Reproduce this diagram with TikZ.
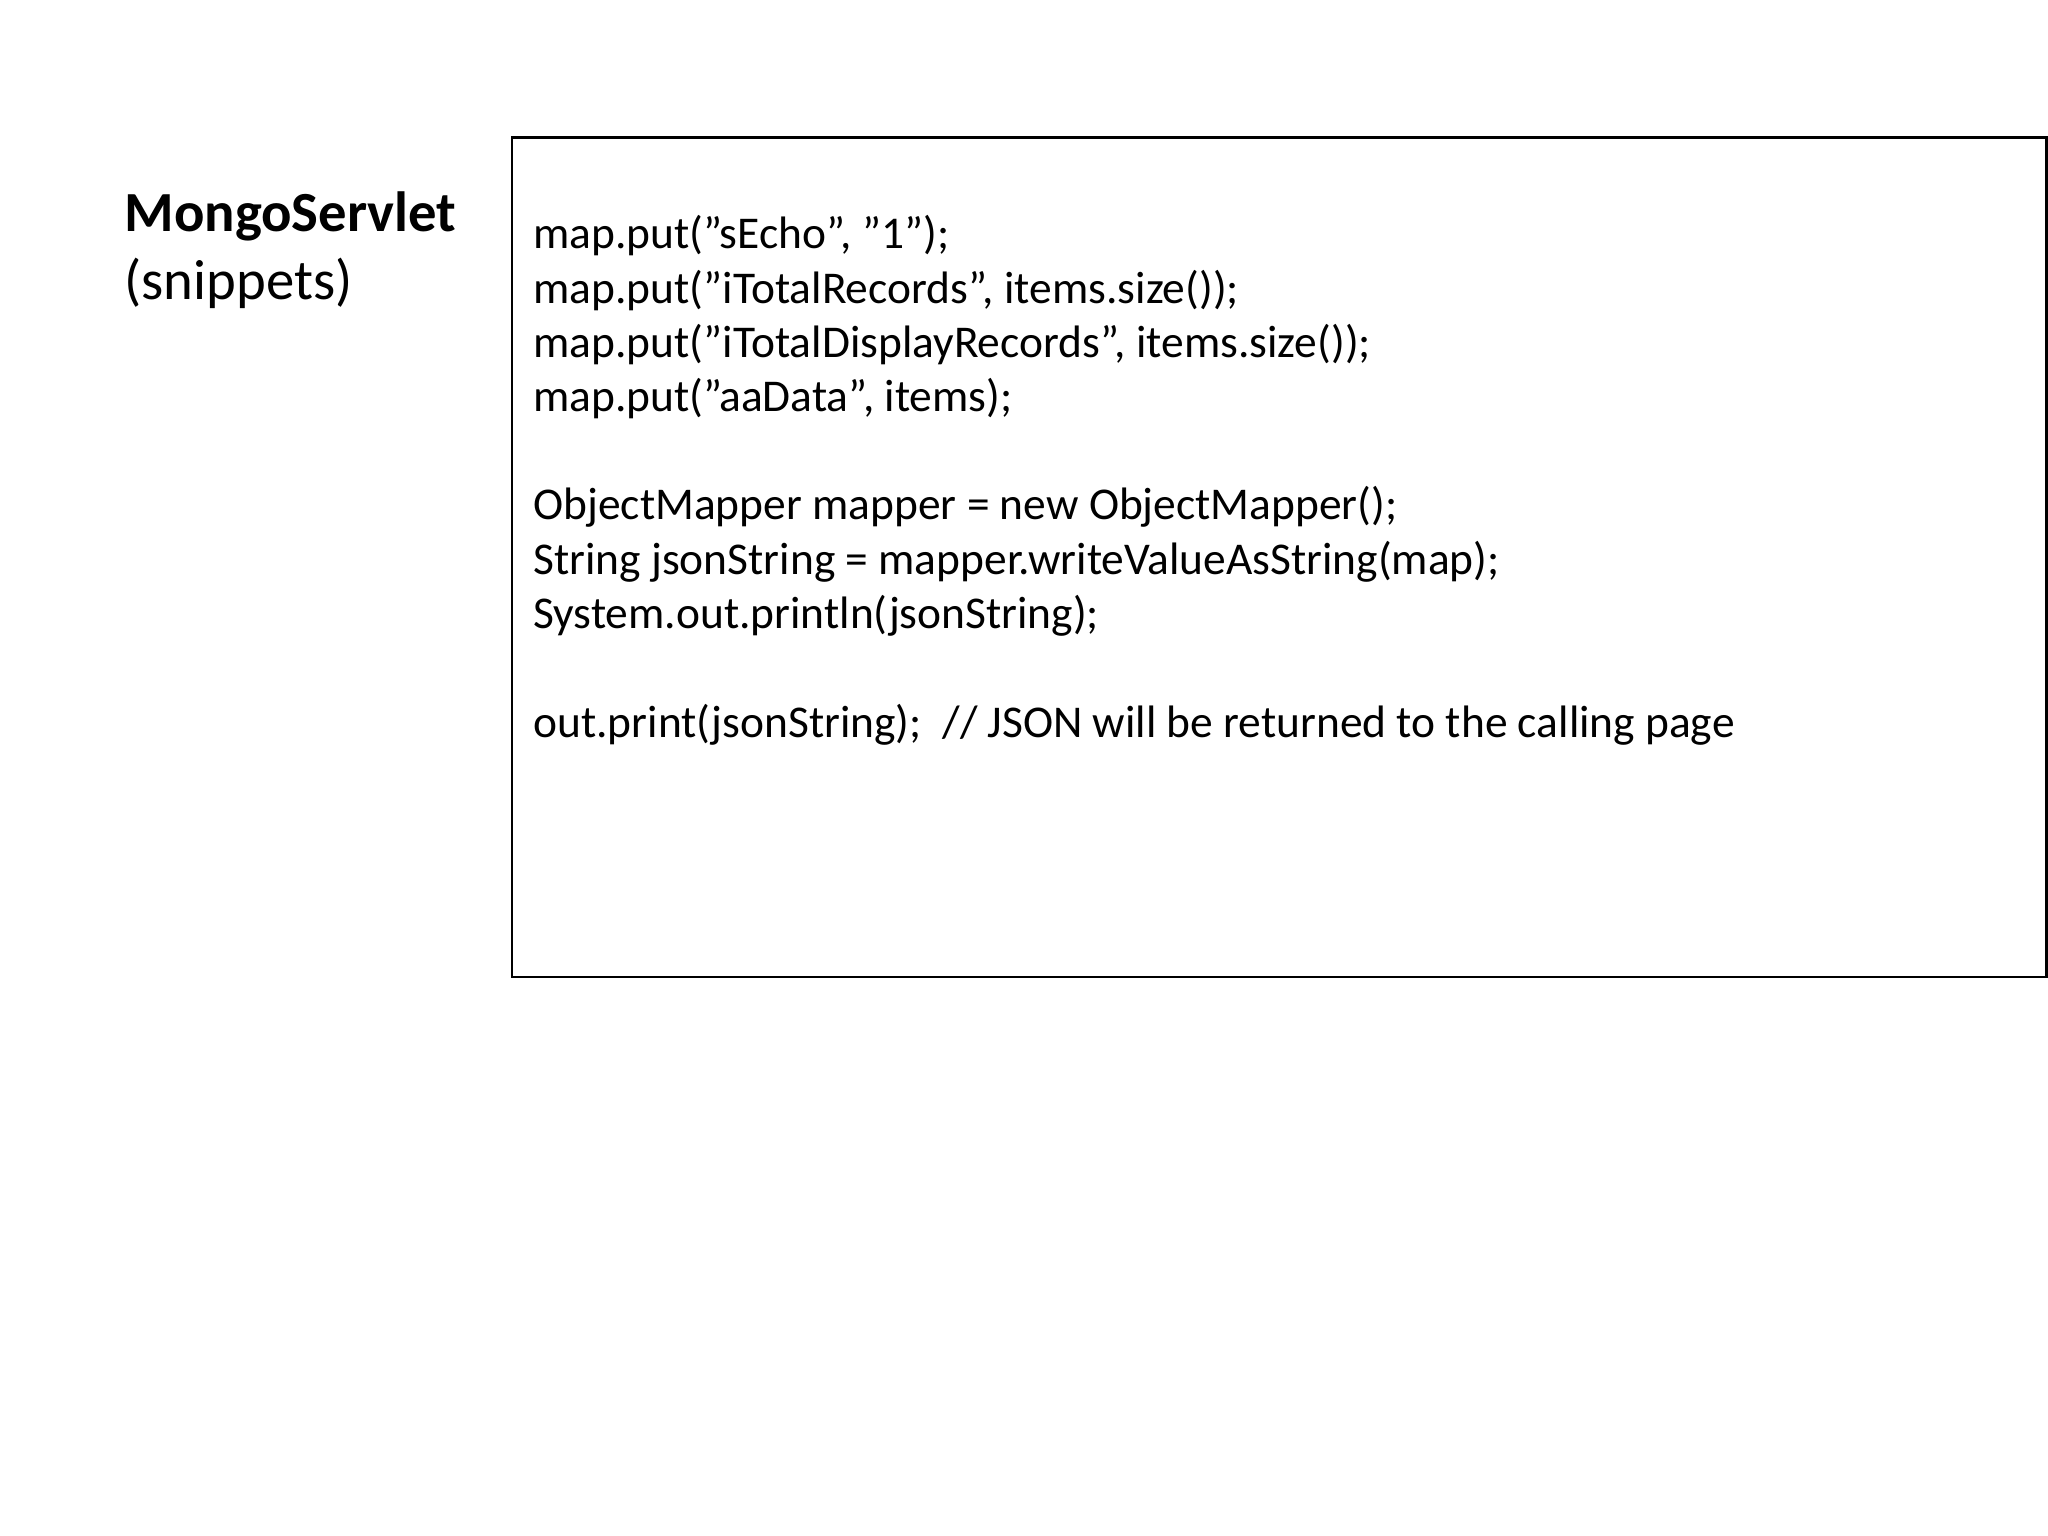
\documentclass[tikz,border=0pt]{standalone}
\usepackage{fontspec}
\setmainfont{Carlito}
\newcommand{\q}{\symbol{34}}
\begin{document}
\begin{tikzpicture}[x=0.5pt,y=-0.5pt,
  code/.style={anchor=base west,inner sep=0pt,font=\fontsize{17.4}{20}\selectfont},
  title/.style={anchor=base west,inner sep=0pt,font=\fontsize{21.7}{26}\selectfont}]
\useasboundingbox (0,0) rectangle (1568,1176);
\coordinate (bnw) at (392,105.5);
\coordinate (bse) at (1567,748);
\draw[line width=1pt] (bnw) rectangle (bse);
\node[title,font=\fontsize{21.7}{26}\selectfont\bfseries] (t1) at (95,177) {MongoServlet};
\node[title] (t2) at (95,229) {(snippets)};
\node[code] (l1) at (408,190) {map.put(\q sEcho\q, \q 1\q);};
\node[code] (l2) at (408,232) {map.put(\q iTotalRecords\q, items.size());};
\node[code] (l3) at (408,274) {map.put(\q iTotalDisplayRecords\q, items.size());};
\node[code] (l4) at (408,315) {map.put(\q aaData\q, items);};
\node[code] (l5) at (408,398) {ObjectMapper mapper = new ObjectMapper();};
\node[code] (l6) at (408,440) {String jsonString = mapper.writeValueAsString(map);};
\node[code] (l7) at (408,481) {System.out.println(jsonString);};
\node[code] (l8) at (408,565) {out.print(jsonString);\ \ // JSON will be returned to the calling page};
\end{tikzpicture}
\end{document}
